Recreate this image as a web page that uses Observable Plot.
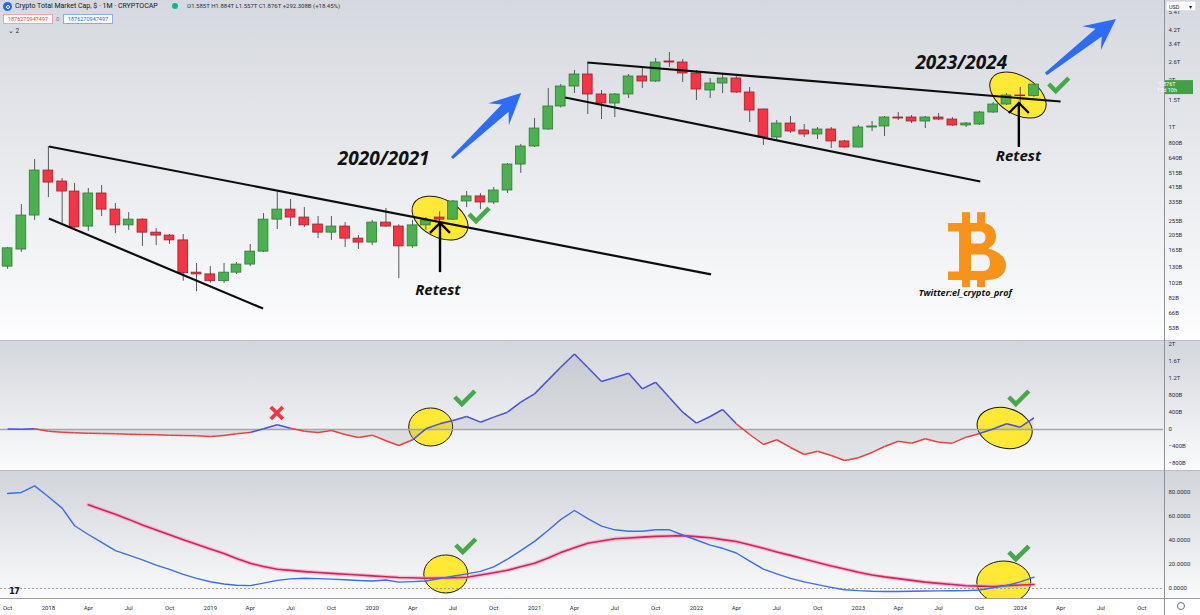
<!DOCTYPE html>
<html>
<head>
<meta charset="utf-8">
<script src="https://cdn.jsdelivr.net/npm/d3@7"></script>
<script src="https://cdn.jsdelivr.net/npm/@observablehq/plot@0.6"></script>
<style>
html,body{margin:0;padding:0;}
body{width:1200px;height:615px;overflow:hidden;position:relative;background:#fff;font-family:Roboto,"Noto Sans",sans-serif;}
.abs{position:absolute;white-space:nowrap;}
.bg{position:absolute;left:0;width:1200px;}
.pane{position:absolute;left:0;}
.pane svg{display:block;overflow:visible;}
</style>
</head>
<body>
<div class="bg" style="top:0;height:340px;background:linear-gradient(#d5d8de,#fdfdfe);"></div>
<div class="bg" style="top:341px;height:129px;background:linear-gradient(#d3d6dc,#fbfbfc);"></div>
<div class="bg" style="top:471px;height:127px;background:linear-gradient(#d1d4da,#fafafb);"></div>
<div class="bg" style="top:598px;height:17px;background:#fff;"></div>
<div class="bg" style="top:340px;height:1px;background:#b9bcc3;"></div>
<div class="bg" style="top:470px;height:1px;background:#b9bcc3;"></div>
<div class="bg" style="top:598px;height:1px;background:#9a9da5;"></div>
<div class="abs" style="left:1164px;top:0;width:1px;height:615px;background:#8e919a;"></div>

<div id="p1" class="pane" style="top:0;"></div>
<div id="p2" class="pane" style="top:340px;"></div>
<div id="p3" class="pane" style="top:470px;"></div>

<!-- header -->
<div class="abs" style="left:3px;top:2px;width:9px;height:9px;border-radius:50%;background:#2962ff;"></div>
<div class="abs" style="left:5.5px;top:4.5px;width:2px;height:2px;border-radius:50%;border:1.5px solid #fff;"></div>
<div class="abs" style="left:15px;top:1.5px;font-size:7px;color:#131722;">Crypto Total Market Cap, $ · 1M · CRYPTOCAP</div>
<div class="abs" style="left:172px;top:3px;width:6px;height:6px;border-radius:50%;background:#22ab94;box-shadow:0 0 0 1.5px #b9e6dd;"></div>
<div class="abs" style="left:187px;top:2px;font-size:6px;color:#2a2e39;">O1.585T H1.884T L1.557T C1.876T +292.308B (+18.45%)</div>
<div class="abs" style="left:3px;top:14px;width:48px;height:8px;border:1px solid #f5a3aa;background:#fff;font-size:5.5px;line-height:8px;text-align:center;color:#f23645;">1876270947497</div>
<div class="abs" style="left:56px;top:14px;font-size:6px;line-height:9px;color:#787b86;">0</div>
<div class="abs" style="left:63px;top:14px;width:48px;height:8px;border:1px solid #8fa8f5;background:#fff;font-size:5.5px;line-height:8px;text-align:center;color:#2962ff;">1876270947497</div>
<div class="abs" style="left:8px;top:27px;font-size:6.5px;color:#2a2e39;">⌄ 2</div>
<!-- USD box -->
<div class="abs" style="left:1166px;top:1px;width:30px;height:10px;border:1px solid #e0e3eb;background:#fff;font-size:5.5px;line-height:10px;color:#131722;padding-left:2px;box-sizing:border-box;">USD<span style="position:absolute;right:3px;">▾</span></div>
<!-- tv logo & gear -->
<div class="abs" style="left:9px;top:586px;font-size:8.5px;font-weight:900;color:#131722;letter-spacing:-1px;font-family:'DejaVu Sans',sans-serif;">17</div>
<div class="abs" style="left:1177px;top:602px;width:6px;height:6px;border-radius:50%;border:1px solid #6a6d78;"></div>

<script>
// ---------------- DATA ----------------
const months = [
 "2017-10","2017-11","2017-12",
 "2018-01","2018-02","2018-03","2018-04","2018-05","2018-06","2018-07","2018-08","2018-09","2018-10","2018-11","2018-12",
 "2019-01","2019-02","2019-03","2019-04","2019-05","2019-06","2019-07","2019-08","2019-09","2019-10","2019-11","2019-12",
 "2020-01","2020-02","2020-03","2020-04","2020-05","2020-06","2020-07","2020-08","2020-09","2020-10","2020-11","2020-12",
 "2021-01","2021-02","2021-03","2021-04","2021-05","2021-06","2021-07","2021-08","2021-09","2021-10","2021-11","2021-12",
 "2022-01","2022-02","2022-03","2022-04","2022-05","2022-06","2022-07","2022-08","2022-09","2022-10","2022-11","2022-12",
 "2023-01","2023-02","2023-03","2023-04","2023-05","2023-06","2023-07","2023-08","2023-09","2023-10","2023-11","2023-12",
 "2024-01","2024-02"];
// total market cap, billions USD
const open = [130,167,275, 532,453,391,234,380,300,238,259,214,205,191,119, 116,105,119,134,162,259,300,267,241,214,234,196, 185,248,234,175,238,267,259,338,364,333,397,581, 757,971,1361,1824,2176,1623,1422,1623,2113,1963,2633,2594, 2208,1721,1907,2052,1671,1302,864,1060,957,903,971,815, 746,1000,1015,1158,1158,1092,1158,1124,1030,1045,1246,1401, 1599,1585];
const high = [172,323,625, 757,473,440,409,427,328,287,262,227,208,208,136, 130,136,138,180,283,386,348,309,271,271,248,205, 256,305,240,256,267,291,343,391,380,415,590,780, 1141,1772,1879,2307,2556,1721,1647,2176,2411,2751,3004,2713, 2307,2052,2208,2113,1798,1310,1108,1175,1045,1000,1000,827, 1030,1092,1175,1246,1192,1175,1228,1158,1076,1265,1443,1647, 1798,1884];
const low = [125,160,256, 358,245,228,218,271,211,221,175,177,180,105,90, 102,102,116,130,160,224,234,231,196,191,172,167, 177,232,109,170,221,245,256,309,300,323,380,510, 746,960,1330,1647,1210,1124,1158,1530,1772,1935,2411,1935, 1486,1530,1647,1647,1076,768,827,916,864,839,735,740, 740,943,877,1108,1060,985,1108,1015,1000,1030,1228,1381, 1381,1557];
const close = [170,275,532, 446,391,231,380,300,238,259,214,205,191,118,116, 105,119,134,162,259,300,267,238,214,234,196,185, 248,234,175,238,256,259,338,364,333,397,581,757, 985,1361,1824,2176,1623,1422,1623,2113,1963,2594,2594,2208, 1746,1907,2052,1671,1283,864,1060,943,903,971,815,746, 1000,1015,1158,1141,1092,1158,1124,1030,1060,1246,1401,1599, 1584,1876];
// oscillator (middle pane), billions USD
const oscillator = [10,8,16,-40,-63,-78,-86,-94,-102,-110, -118,-125,-133,-141,-149,-165,-141,-102,-71,16, 110,31,-40,-71,-24,-118,-188,-133,-266,-376, -243,16,133,212,306,172,290,407,642,838, 1167,1465,1778,1457,1128,1222,1323,956,1112,752, 407,148,306,470,134,-118,-353,-242,-423,-588, -510,-611,-729,-665,-540,-400,-275,-322,-219,-298, -322,-181,-94,12,134,54,275];
// bottom pane lines
const fastLine = [79.2,80,85.5,76.5,67,52.3,45,38.5,31.6,27.8, 23.9,19.5,16,11.8,8.4,5.6,3.7,2.7,2.4,4.5, 6.8,8,8.6,8.2,7.8,7.3,6.7,6.2,7.1,5.3, 5.7,6.2,8.2,10.2,12.2,14.3,18,24.4,31.5,39.3, 48.6,57.4,65,58.3,52,48.9,47.7,47.7,48.9,48.9, 44.6,40.4,36.1,33.5,29.6,22.8,16.1,12.2,8.4,5.5, 3.2,0.9,-1,-1.8,-2.3,-2.5,-2.5,-2.3,-2.1,-2, -1.9,-1.8,-1.3,0.6,2.5,5.5,9.5];
const slowLine = [null,null,null,null,null,null, 69.8,65.8,61.8,57.6,52.9,48.8,44.7,40.7,36.8,33, 29.1,25,21,18.3,16.1,15.1,14.1,13.3,12.6,11.9, 11.2,10.5,9.8,9.2,8.9,8.6,8.7,9,9.4,11.2, 13.1,15.2,18.2,21,25.5,29.9,34,37.7,39.6,41.4, 42.1,42.8,43.4,43.8,44.1,43.2,42.3,40.7,39.1,36.4, 33.5,30.5,27.6,24.5,21.7,18.8,16.2,13.6,11.3,9.7, 8.2,6.8,5.3,4.3,3.3,2.3,2,1.7,2.4,2.9,3.3];
// axis ticks
const priceTicks = [5400,4200,3400,2600,2000,1500,1000,800,640,515,415,335,255,205,165,130,102,82,66,53];
const oscTicks = [2000,1600,1200,800,400,0,-400,-800];
const lineTicks = [0,20,40,60,80];
// annotations (date, value)
const trendLines = [
 {from:"2018-01-02", v1:757, to:"2022-02-03", v2:116},
 {from:"2018-01-02", v1:263, to:"2019-04-30", v2:70.3},
 {from:"2021-04-30", v1:2594, to:"2024-04-01", v2:1464},
 {from:"2021-03-11", v1:1553, to:"2023-10-03", v2:453}
];
const yearLabels = [{date:"2020-01-27", value:635, text:"2020/2021"},{date:"2023-08-21", value:2594, text:"2023/2024"}];
const retestLabels = [{date:"2020-05-28", value:91.6, text:"Retest"},{date:"2023-12-28", value:654, text:"Retest"}];
const creditLabel = [{date:"2023-08-30", value:87.6, text:"Twitter:el_crypto_prof"}];
const logoAnchor = {date:"2023-09-29", value:162};
const retestArrows = [{date:"2020-06-03", from:119, to:245},{date:"2023-12-30", from:746, to:1422}];
const blueArrows = [{d0:"2020-06-30", v0:635, d1:"2020-12-03", v1:1647},{d0:"2024-02-29", v0:2176, d1:"2024-08-05", v1:4875}];
const ellipsesTop = [{date:"2020-06-03", value:263},{date:"2023-12-28", value:1599}];
const ellipsesMid = [{date:"2020-05-13", value:47},{date:"2023-11-28", value:23}];
const ellipsesBot = [{date:"2020-06-16", value:11.7},{date:"2023-11-26", value:5}];
const checksTop = [{date:"2020-08-30", value:275},{date:"2024-03-29", value:1851}];
const checksMid = [{date:"2020-07-29", value:729},{date:"2023-12-30", value:729}];
const checksBot = [{date:"2020-07-31", value:35},{date:"2023-12-30", value:29}];
const crossMid = [{date:"2019-06-01", value:376}];

// ---------------- SETUP ----------------
const pm = d3.utcParse("%Y-%m"), pd = d3.utcParse("%Y-%m-%d");
const X_DOMAIN = [new Date(Date.UTC(2017,8,15)), new Date(Date.UTC(2024,10,19))];
const W=1200, MR=37, IW=W-MR, H1=340, H2=130, H3=128, AX=17;
const Y1=[44,6440], Y2=[-965,2094], Y3=[-8.33,98.33];
const xs=d3.scaleUtc().domain(X_DOMAIN).range([0,IW]);
const ys1=d3.scaleLog().domain(Y1).range([H1,0]);
const ys2=d3.scaleLinear().domain(Y2).range([H2,0]);
const ys3=d3.scaleLinear().domain(Y3).range([H3,0]);
const GREEN="#4caf50", RED="#f23645";
const baseStyle={background:"transparent",overflow:"visible",fontFamily:"Roboto,'Noto Sans',sans-serif",fontSize:"6px",color:"#2a2e39"};
const fmtPrice=v=>v>=1000?`${+(v/1000).toFixed(3)}T`:`${v}B`;
const fmtOsc=v=>v===0?"0":(v<0?"−":"")+(Math.abs(v)>=1000?`${Math.abs(v)/1000}T`:`${Math.abs(v)}B`);
const dates = months.map(pm);
const candles = dates.map((d,i)=>({date:d,o:open[i],h:high[i],l:low[i],c:close[i]}));
const annoFont = "'Open Sans','DejaVu Sans',sans-serif";

// ---------------- PANE 1 ----------------
const p1 = Plot.plot({
  width:W, height:H1, marginTop:0, marginBottom:0, marginLeft:0, marginRight:MR, style:baseStyle,
  x:{domain:X_DOMAIN, axis:null},
  y:{type:"log", domain:Y1, axis:null},
  color:{type:"identity"},
  marks:[
    Plot.text(priceTicks,{y:d=>d, text:d=>fmtPrice(d), frameAnchor:"right", textAnchor:"start", dx:5, fontSize:6, fill:"#2a2e39"}),
    Plot.ruleX(candles,{x:"date", y1:"l", y2:"h", stroke:"#55585f", strokeWidth:1}),
    Plot.rect(candles,{x1:d=>d3.utcDay.offset(d.date,-11), x2:d=>d3.utcDay.offset(d.date,11), y1:"o", y2:"c",
      fill:d=>d.c>=d.o?GREEN:RED, stroke:d=>d.c>=d.o?"#2f7a33":"#9e1f2a", strokeWidth:0.8}),
    Plot.link(trendLines,{x1:d=>pd(d.from), y1:"v1", x2:d=>pd(d.to), y2:"v2", stroke:"#0d0d0d", strokeWidth:2.2}),
    Plot.text(yearLabels,{x:d=>pd(d.date), y:"value", text:"text", fontSize:19, fontWeight:"bold", fontStyle:"italic", fontFamily:annoFont, fill:"#111"}),
    Plot.text(retestLabels,{x:d=>pd(d.date), y:"value", text:"text", fontSize:15, fontWeight:"bold", fontStyle:"italic", fontFamily:annoFont, fill:"#111"}),
    Plot.text(creditLabel,{x:d=>pd(d.date), y:"value", text:"text", fontSize:9, fontWeight:"bold", fontStyle:"italic", fontFamily:annoFont, fill:"#111"})
  ]
});
document.getElementById("p1").appendChild(p1);

// ---------------- PANE 2 ----------------
const osc = dates.map((d,i)=>({date:d, v:oscillator[i]}));
const oscSegs = d3.pairs(osc).map(([a,b])=>({a,b,col:b.v>=0?"#4a52dc":"#e5423f"}));
const p2 = Plot.plot({
  width:W, height:H2, marginTop:0, marginBottom:0, marginLeft:0, marginRight:MR, style:baseStyle,
  x:{domain:X_DOMAIN, axis:null},
  y:{domain:Y2, axis:"right", ticks:oscTicks, tickFormat:fmtOsc, tickSize:0, tickPadding:5, label:null},
  color:{type:"identity"},
  marks:[
    Plot.areaY(osc,{x:"date", y1:d=>0, y2:"v", fill:"#8e919b", fillOpacity:0.2}),
    Plot.ruleY([0],{stroke:"#a3a6ad", strokeWidth:1.3}),
    Plot.link(oscSegs,{x1:d=>d.a.date, y1:d=>d.a.v, x2:d=>d.b.date, y2:d=>d.b.v, stroke:d=>d.col, strokeWidth:1.5})
  ]
});
document.getElementById("p2").appendChild(p2);

// ---------------- PANE 3 ----------------
const fast = dates.map((d,i)=>({date:d, v:fastLine[i]}));
const slow = dates.map((d,i)=>({date:d, v:slowLine[i]})).filter(d=>d.v!=null);
const quarterTicks = d3.utcMonth.every(3).range(new Date(Date.UTC(2017,9,1)), new Date(Date.UTC(2024,10,2)));
const p3 = Plot.plot({
  width:W, height:H3+AX, marginTop:0, marginBottom:AX, marginLeft:0, marginRight:MR, style:baseStyle,
  x:{domain:X_DOMAIN, ticks:quarterTicks, tickFormat:d=>d.getUTCMonth()===0?d3.utcFormat("%Y")(d):d3.utcFormat("%b")(d), tickSize:0, tickPadding:7, label:null},
  y:{domain:Y3, axis:"right", ticks:lineTicks, tickFormat:d=>d.toFixed(4), tickSize:0, tickPadding:5, label:null},
  marks:[
    Plot.ruleY([0],{stroke:"#8a8d95", strokeWidth:0.8, strokeDasharray:"2,2"}),
    Plot.line(slow,{x:"date", y:"v", stroke:"#f59bbd", strokeWidth:4, strokeOpacity:0.6}),
    Plot.line(slow,{x:"date", y:"v", stroke:"#d0245c", strokeWidth:1.6}),
    Plot.line(fast,{x:"date", y:"v", stroke:"#3b6ee8", strokeWidth:1.4})
  ]
});
document.getElementById("p3").appendChild(p3);

// ---------------- OVERLAYS ----------------
function layer(svg, below){
  const s=d3.select(svg);
  return below ? s.insert("g","g") : s.append("g");
}
function ellipse(g,cx,cy,rx,ry,rot){
  g.append("ellipse").attr("cx",cx).attr("cy",cy).attr("rx",rx).attr("ry",ry)
   .attr("transform",`rotate(${rot},${cx},${cy})`)
   .attr("fill","#ffe936").attr("stroke","#1a1a1a").attr("stroke-width",1);
}
function check(g,x,y){
  g.append("path").attr("d",`M${x-10},${y-1}L${x-3},${y+6}L${x+10},${y-7}`)
   .attr("fill","none").attr("stroke","#46a84b").attr("stroke-width",4.5).attr("stroke-linejoin","miter");
}
function cross(g,x,y){
  g.append("path").attr("d",`M${x-6},${y-6}L${x+6},${y+6}M${x+6},${y-6}L${x-6},${y+6}`)
   .attr("stroke","#f23645").attr("stroke-width",3.8).attr("fill","none");
}
function blueArrow(g,x0,y0,x1,y1){
  const dx=x1-x0, dy=y1-y0, L=Math.hypot(dx,dy), ux=dx/L, uy=dy/L, nx=-uy, ny=ux;
  const jx=x1-ux*22, jy=y1-uy*22, cx=x1-ux*31, cy=y1-uy*31;
  const pts=[[x0+nx*1.5,y0+ny*1.5],[jx+nx*5,jy+ny*5],[cx+nx*15,cy+ny*15],[x1,y1],[cx-nx*15,cy-ny*15],[jx-nx*5,jy-ny*5],[x0-nx*1.5,y0-ny*1.5]];
  g.append("polygon").attr("points",pts.map(p=>p.join(",")).join(" ")).attr("fill","#2f6cf6");
}
function retestArrow(g,x,yA,yB){
  g.append("line").attr("x1",x).attr("x2",x).attr("y1",yA).attr("y2",yB).attr("stroke","#000").attr("stroke-width",2.4);
  g.append("path").attr("d",`M${x-10},${yB+10}L${x},${yB}L${x+10},${yB+10}`).attr("fill","none").attr("stroke","#000").attr("stroke-width",2.4);
}
function bitcoinLogo(g,cx,cy){
  // glyph drawn as a shape; top-left of the letter at (cx-30, cy-28)
  const lg=g.append("g").attr("transform",`translate(${cx-30},${cy-28})`).attr("fill","#f7931a");
  lg.append("path").attr("fill-rule","evenodd").attr("d",
    "M0,0 L33,0 C43,0 48,6 48,13.5 C48,19 45,23 40,25.5 C50,28 58,34 58,42 C58,51 51,57 38,57 L0,57 L0,48.5 L11,48.5 L11,8.5 L0,8.5 Z " +
    "M23,8.5 L32,8.5 C35.5,8.5 37.5,11 37.5,14.5 C37.5,18 35.5,20.5 32,20.5 L23,20.5 Z " +
    "M23,31.5 L35,31.5 C39.5,31.5 42,35 42,39.5 C42,44.5 39.5,48 35,48 L23,48 Z");
  [[14,-11,8,12],[29,-11,8,12],[14,56,8,8],[29,56,8,8]].forEach(([x,y,w,h])=>lg.append("rect").attr("x",x).attr("y",y).attr("width",w).attr("height",h));
}

// pane 1
const ELL_TOP=[[30,19,28],[31,19,32]];
const u1=layer(p1,true);
ellipsesTop.forEach((e,i)=>ellipse(u1,xs(pd(e.date)),ys1(e.value),...ELL_TOP[i]));
const o1=layer(p1,false);
blueArrows.forEach(a=>blueArrow(o1,xs(pd(a.d0)),ys1(a.v0),xs(pd(a.d1)),ys1(a.v1)));
retestArrows.forEach(a=>retestArrow(o1,xs(pd(a.date)),ys1(a.from),ys1(a.to)));
checksTop.forEach(c=>check(o1,xs(pd(c.date)),ys1(c.value)));
bitcoinLogo(o1, xs(pd(logoAnchor.date)), ys1(logoAnchor.value));
// price tag
{
  const last=close[close.length-1], yc=ys1(last);
  o1.append("rect").attr("x",IW+2).attr("y",yc-4).attr("width",28).attr("height",14).attr("fill","#43a047");
  o1.append("text").attr("x",IW+4).attr("y",yc+2).attr("fill","#fff").attr("font-size",5.5).attr("font-family","Roboto,sans-serif").text(fmtPrice(last));
  o1.append("text").attr("x",IW+4).attr("y",yc+8).attr("fill","#fff").attr("font-size",5.5).attr("font-family","Roboto,sans-serif").text("15d 10h");
}
// pane 2
const ELL_MID=[[22,19,0],[28,20,15]];
const u2=layer(p2,true);
ellipsesMid.forEach((e,i)=>ellipse(u2,xs(pd(e.date)),ys2(e.value),...ELL_MID[i]));
const o2=layer(p2,false);
checksMid.forEach(c=>check(o2,xs(pd(c.date)),ys2(c.value)));
crossMid.forEach(c=>cross(o2,xs(pd(c.date)),ys2(c.value)));
// pane 3
const ELL_BOT=[[22,19,0],[27,21,0]];
const s3=d3.select(p3);
s3.append("defs").append("clipPath").attr("id","clip3").append("rect").attr("x",0).attr("y",0).attr("width",IW).attr("height",H3);
const u3=s3.insert("g","g").attr("clip-path","url(#clip3)");
ellipsesBot.forEach((e,i)=>ellipse(u3,xs(pd(e.date)),ys3(e.value),...ELL_BOT[i]));
const o3=layer(p3,false);
checksBot.forEach(c=>check(o3,xs(pd(c.date)),ys3(c.value)));
</script>
</body>
</html>
